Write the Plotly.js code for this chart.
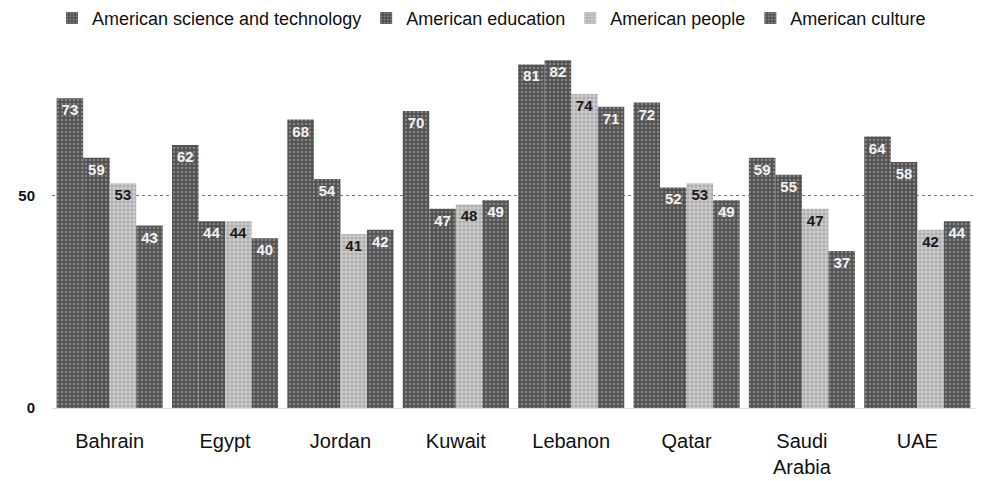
<!DOCTYPE html>
<html>
<head>
<meta charset="utf-8">
<script src="https://cdn.plot.ly/plotly-3.0.1.min.js"></script>
<style>html,body{margin:0;padding:0;background:#fff;}#chart{width:992px;height:481px;}</style>
</head>
<body>
<div id="chart"></div>
<script>
const countries = ["Bahrain", "Egypt", "Jordan", "Kuwait", "Lebanon", "Qatar", "Saudi<br>Arabia", "UAE"];
const seriesNames = ["American science and technology", "American education", "American people", "American culture"];
const scienceTech = [73, 62, 68, 70, 81, 72, 59, 64];
const education   = [59, 44, 54, 47, 82, 52, 55, 58];
const people      = [53, 44, 41, 48, 74, 53, 47, 42];
const culture     = [43, 40, 42, 49, 71, 49, 37, 44];
const yTicks = [0, 50];

const allValues = [scienceTech, education, people, culture];
const fills = ["#525252", "#505050", "#acacac", "#545454"];
const fg = ["#858585", "#858585", "#e6e6e6", "#858585"];
const txtColors = ["#f2f2f2", "#f2f2f2", "#1a1a1a", "#f2f2f2"];

const traces = allValues.map((vals, i) => ({
  type: "bar",
  name: seriesNames[i],
  x: countries,
  y: vals,
  text: vals.map(String),
  textposition: "inside",
  insidetextanchor: "end",
  textangle: 0,
  constraintext: "none",
  textfont: {family: "Liberation Sans, Arial, sans-serif", size: 15, color: txtColors[i], weight: "bold"},
  marker: {
    color: fills[i],
    line: {width: 0},
    pattern: {shape: i === 2 ? "+" : ".", fgcolor: fg[i], bgcolor: fills[i], size: 4, solidity: 0.3}
  },
  hoverinfo: "skip"
}));

const layout = {
  width: 992, height: 481,
  margin: {l: 52, r: 17, t: 50, b: 73},
  paper_bgcolor: "#ffffff", plot_bgcolor: "#ffffff",
  barmode: "group",
  bargap: 0.08,
  bargroupgap: 0,
  font: {family: "Liberation Sans, Arial, sans-serif", color: "#111"},
  showlegend: true,
  legend: {
    orientation: "h", x: 0.0, xanchor: "left",
    yref: "container", y: 0.962, yanchor: "middle",
    font: {size: 18, color: "#111"}, itemwidth: 30, traceorder: "normal",
    tracegroupgap: 0
  },
  xaxis: {
    type: "category",
    showline: true, linecolor: "#dddddd", linewidth: 1,
    ticks: "", ticklabelstandoff: 15,
    tickfont: {size: 20, color: "#111"},
    showgrid: false
  },
  yaxis: {
    range: [0, 84.4],
    tickvals: yTicks, ticktext: yTicks.map(String),
    tickfont: {size: 15, color: "#111", weight: "bold"},
    showgrid: true, gridcolor: "#777777", griddash: "dot", gridwidth: 1,
    zeroline: false, showline: false, ticks: "", ticklabelstandoff: 16
  }
};

Plotly.newPlot("chart", traces, layout, {displayModeBar: false, staticPlot: true});
</script>
</body>
</html>
